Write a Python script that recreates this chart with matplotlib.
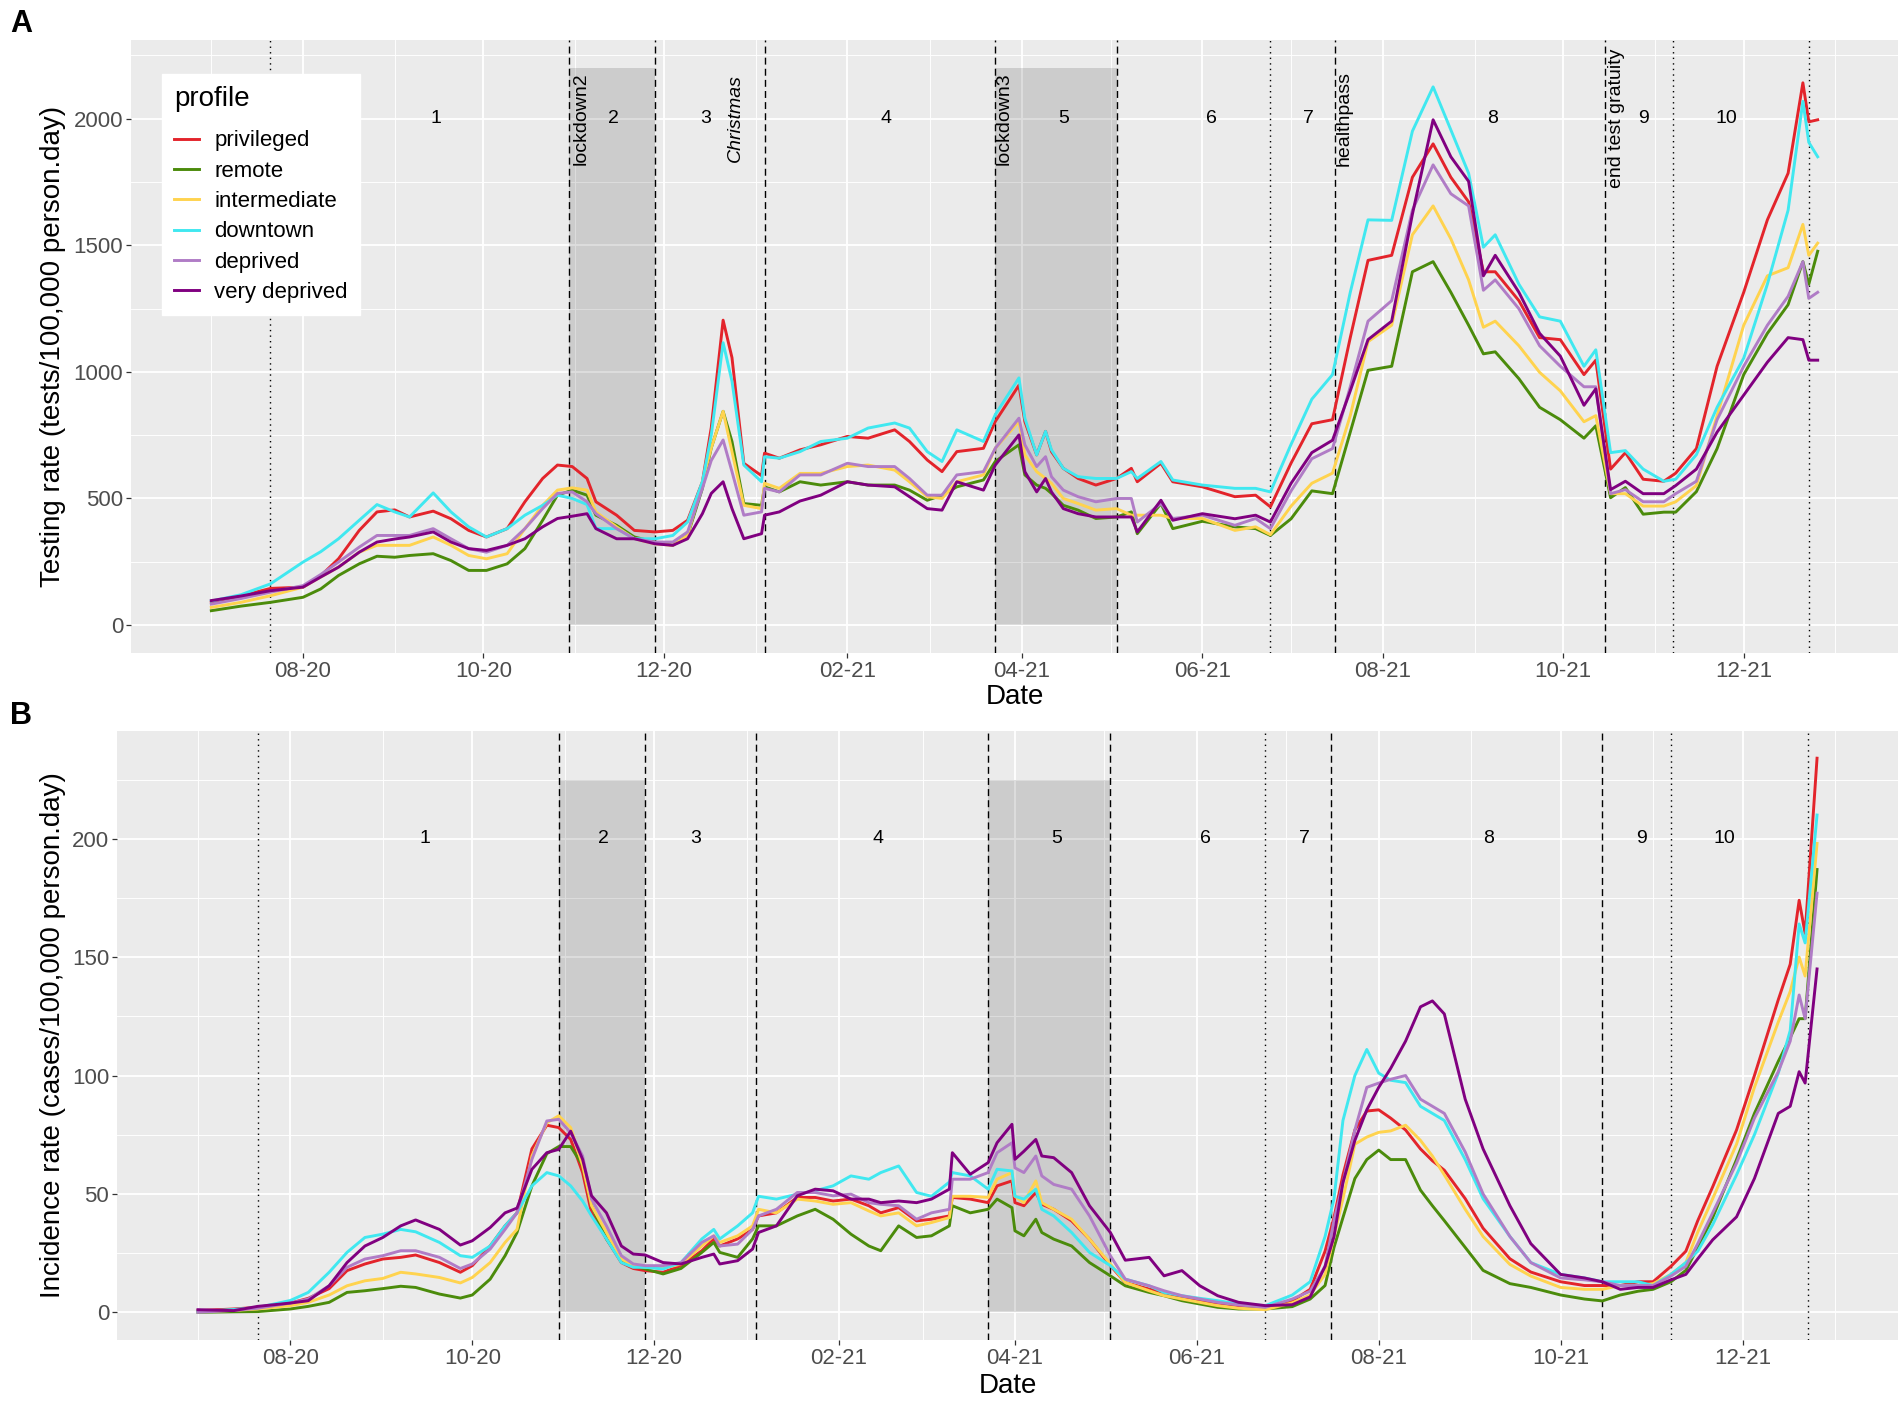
import matplotlib
matplotlib.use("Agg")
import matplotlib.pyplot as plt
import matplotlib.dates as mdates
from matplotlib.ticker import MultipleLocator, FixedLocator
import pandas as pd

plt.rcParams['font.family'] = ['Liberation Sans', 'DejaVu Sans']

# ---- data -----------------------------------------------------------------
profiles = ["privileged", "remote", "intermediate", "downtown", "deprived", "very deprived"]
colors = ["#E3242B", "#4B8B0B", "#FFD34E", "#40E8F0", "#B07CC6", "#800080"]

dates_a = [
    "2020-07-01", "2020-07-11", "2020-07-21", "2020-08-01", "2020-08-07", "2020-08-13", "2020-08-20", "2020-08-26", "2020-09-01", "2020-09-06",
    "2020-09-14", "2020-09-20", "2020-09-26", "2020-10-02", "2020-10-09", "2020-10-15", "2020-10-21", "2020-10-26", "2020-10-31", "2020-11-05",
    "2020-11-08", "2020-11-15", "2020-11-21", "2020-11-28", "2020-12-04", "2020-12-09", "2020-12-14", "2020-12-17", "2020-12-21", "2020-12-24",
    "2020-12-28", "2021-01-03", "2021-01-04", "2021-01-09", "2021-01-16", "2021-01-23", "2021-02-01", "2021-02-08", "2021-02-17", "2021-02-22",
    "2021-02-28", "2021-03-05", "2021-03-10", "2021-03-19", "2021-03-23", "2021-03-31", "2021-04-02", "2021-04-06", "2021-04-09", "2021-04-11",
    "2021-04-15", "2021-04-20", "2021-04-26", "2021-05-03", "2021-05-08", "2021-05-10", "2021-05-18", "2021-05-22", "2021-06-01", "2021-06-12",
    "2021-06-19", "2021-06-24", "2021-07-01", "2021-07-08", "2021-07-15", "2021-07-21", "2021-07-27", "2021-08-04", "2021-08-11", "2021-08-18",
    "2021-08-24", "2021-08-30", "2021-09-04", "2021-09-08", "2021-09-16", "2021-09-23", "2021-09-30", "2021-10-08", "2021-10-12", "2021-10-17",
    "2021-10-22", "2021-10-28", "2021-11-04", "2021-11-08", "2021-11-15", "2021-11-22", "2021-12-01", "2021-12-09", "2021-12-16", "2021-12-21",
    "2021-12-23", "2021-12-26"]

test_privileged = [90, 115, 145, 150, 195, 262, 374, 447, 455, 427,
                   450, 420, 374, 348, 381, 487, 579, 632, 626, 579,
                   487, 434, 374, 368, 374, 414, 566, 780, 1204, 1056,
                   639, 590, 679, 659, 692, 712, 745, 738, 771, 725,
                   652, 606, 685, 698, 804, 947, 804, 672, 765, 685,
                   619, 579, 553, 579, 619, 566, 639, 566, 546, 507,
                   513, 467, 640, 795, 811, 1135, 1440, 1460, 1768, 1900,
                   1768, 1671, 1395, 1395, 1281, 1135, 1127, 989, 1046, 616,
                   681, 576, 568, 600, 697, 1022, 1314, 1600, 1784, 2141,
                   1987, 1995]
test_remote = [57, 75, 90, 110, 143, 196, 242, 272, 268, 275,
               282, 255, 216, 216, 242, 302, 414, 513, 533, 513,
               434, 394, 348, 328, 315, 354, 540, 700, 844, 725,
               480, 473, 546, 526, 566, 553, 566, 553, 553, 533,
               493, 513, 546, 573, 646, 712, 593, 553, 540, 520,
               473, 454, 421, 427, 447, 361, 480, 381, 410, 388,
               381, 354, 420, 530, 519, 762, 1006, 1022, 1395, 1435,
               1314, 1184, 1071, 1079, 973, 860, 811, 738, 787, 503,
               543, 438, 446, 446, 527, 697, 989, 1152, 1265, 1435,
               1346, 1476]
test_intermediate = [70, 90, 116, 150, 190, 229, 288, 315, 315, 315,
                     348, 315, 275, 262, 282, 381, 473, 533, 542, 533,
                     447, 388, 341, 321, 315, 354, 566, 700, 844, 685,
                     473, 460, 560, 540, 599, 599, 626, 632, 612, 566,
                     507, 500, 566, 593, 698, 804, 672, 606, 579, 560,
                     500, 480, 454, 460, 434, 434, 434, 421, 421, 374,
                     388, 357, 470, 560, 600, 827, 1119, 1184, 1541, 1655,
                     1525, 1363, 1176, 1200, 1103, 998, 925, 803, 827, 519,
                     519, 470, 470, 487, 551, 827, 1184, 1379, 1411, 1582,
                     1460, 1508]
test_downtown = [95, 120, 163, 249, 290, 341, 414, 476, 447, 427,
                 522, 447, 388, 348, 381, 434, 473, 513, 500, 476,
                 381, 381, 341, 341, 354, 407, 566, 750, 1115, 963,
                 632, 566, 665, 659, 685, 725, 738, 778, 798, 778,
                 685, 646, 771, 725, 831, 976, 817, 672, 765, 692,
                 619, 586, 579, 579, 606, 579, 646, 573, 553, 540,
                 540, 526, 714, 892, 989, 1314, 1600, 1598, 1950, 2125,
                 1955, 1784, 1492, 1541, 1346, 1217, 1200, 1022, 1087, 681,
                 689, 616, 568, 576, 673, 860, 1054, 1346, 1638, 2068,
                 1906, 1849]
test_deprived = [83, 105, 130, 156, 200, 249, 308, 354, 354, 354,
                 381, 341, 302, 288, 315, 381, 460, 520, 526, 487,
                 440, 381, 341, 328, 328, 368, 540, 650, 731, 606,
                 434, 447, 540, 526, 593, 593, 639, 626, 626, 579,
                 513, 513, 593, 606, 698, 817, 712, 626, 665, 586,
                 533, 507, 487, 500, 500, 407, 480, 421, 434, 394,
                 421, 381, 530, 657, 697, 941, 1200, 1281, 1638, 1817,
                 1703, 1655, 1322, 1363, 1249, 1103, 1022, 941, 941, 519,
                 535, 487, 487, 519, 568, 811, 1022, 1184, 1298, 1435,
                 1290, 1314]
test_very_deprived = [97, 115, 136, 150, 190, 229, 288, 328, 340, 348,
                      368, 328, 302, 295, 315, 341, 388, 421, 430, 440,
                      381, 341, 341, 321, 315, 341, 440, 520, 566, 460,
                      341, 361, 434, 447, 490, 513, 566, 553, 546, 507,
                      460, 454, 566, 533, 632, 751, 606, 526, 579, 526,
                      460, 440, 427, 427, 427, 368, 493, 414, 440, 420,
                      434, 407, 560, 681, 730, 925, 1127, 1200, 1622, 1995,
                      1849, 1752, 1379, 1460, 1314, 1152, 1062, 868, 933, 535,
                      568, 519, 519, 551, 616, 762, 908, 1038, 1135, 1127,
                      1046, 1046]

dates_b = [
    "2020-07-01", "2020-07-13", "2020-07-21", "2020-08-01", "2020-08-07", "2020-08-14", "2020-08-20", "2020-08-26", "2020-09-01", "2020-09-07",
    "2020-09-12", "2020-09-20", "2020-09-27", "2020-10-01", "2020-10-07", "2020-10-12", "2020-10-16", "2020-10-21", "2020-10-26", "2020-10-30",
    "2020-11-03", "2020-11-07", "2020-11-10", "2020-11-15", "2020-11-20", "2020-11-24", "2020-11-28", "2020-12-04", "2020-12-10", "2020-12-17",
    "2020-12-21", "2020-12-23", "2020-12-29", "2021-01-03", "2021-01-05", "2021-01-11", "2021-01-18", "2021-01-24", "2021-01-30", "2021-02-05",
    "2021-02-11", "2021-02-15", "2021-02-21", "2021-02-27", "2021-03-04", "2021-03-10", "2021-03-11", "2021-03-17", "2021-03-23", "2021-03-26",
    "2021-03-31", "2021-04-01", "2021-04-04", "2021-04-08", "2021-04-10", "2021-04-14", "2021-04-20", "2021-04-26", "2021-05-03", "2021-05-08",
    "2021-05-16", "2021-05-21", "2021-05-27", "2021-06-02", "2021-06-08", "2021-06-15", "2021-06-24", "2021-07-03", "2021-07-09", "2021-07-14",
    "2021-07-17", "2021-07-20", "2021-07-24", "2021-07-28", "2021-08-01", "2021-08-05", "2021-08-10", "2021-08-15", "2021-08-19", "2021-08-23",
    "2021-08-30", "2021-09-05", "2021-09-14", "2021-09-21", "2021-10-01", "2021-10-09", "2021-10-15", "2021-10-21", "2021-10-27", "2021-11-01",
    "2021-11-07", "2021-11-12", "2021-11-16", "2021-11-21", "2021-11-29", "2021-12-05", "2021-12-13", "2021-12-17", "2021-12-20", "2021-12-22",
    "2021-12-26"]

inc_privileged = [0.7, 1.4, 2.1, 3.9, 5.9, 10, 17.6, 20.4, 22.5, 23.2,
                  24.2, 21, 16.9, 19.7, 28, 36.5, 42, 69, 79, 78,
                  73, 59, 42, 31, 21, 18.5, 17.6, 16.9, 19.7, 26,
                  31, 28, 31, 35, 40.7, 42, 48.5, 48.5, 47, 47.8,
                  45, 42, 44.2, 38.6, 39.3, 40.7, 48.5, 47.8, 46.3, 53.4,
                  55.5, 46.3, 45, 50.6, 45.6, 43.5, 38.6, 30.9, 19.7, 12.6,
                  9.8, 8.4, 6.3, 4.9, 3.9, 2.8, 2.1, 4.8, 9.7, 25.8,
                  40, 58, 77, 85, 85.5, 82, 77, 69, 64, 60,
                  48, 35.5, 22.6, 17, 12.9, 11.3, 11.3, 11.3, 12.9, 12.9,
                  19.4, 25.8, 38.7, 53, 77, 100, 132, 147, 174, 160,
                  234]
inc_remote = [0, 0.2, 0.3, 1.4, 2.5, 4.2, 8.4, 9.1, 10, 11,
              10.5, 7.7, 6, 7.3, 14, 23.9, 33.7, 53.4, 67, 70,
              70, 62, 45, 31, 21.8, 19.7, 18.3, 16.2, 18.5, 25.3,
              29.5, 25.3, 23.2, 31, 36.5, 36.5, 40.7, 43.5, 39.3, 33,
              28, 26, 36.5, 31.6, 32.3, 36.5, 45, 42, 43.5, 47.8,
              44.2, 34.4, 32.3, 39.3, 33.7, 30.9, 28, 21, 15.4, 11.2,
              8.4, 7, 4.9, 3.5, 2.1, 1.4, 1.4, 2.4, 5.6, 11.3,
              27.4, 40, 56.5, 64.5, 68.5, 64.5, 64.5, 51.6, 45, 38.7,
              27.4, 17.7, 12.1, 10.5, 7.3, 5.6, 4.8, 7.3, 8.9, 9.7,
              12.9, 17.7, 27.4, 40, 64.5, 84, 106, 116, 124, 124,
              187]
inc_intermediate = [0.3, 0.8, 1.4, 2.8, 4.2, 7.3, 11.2, 13.3, 14.3, 16.9,
                    16.2, 14.7, 12.4, 14.7, 21, 29.5, 35, 66, 80, 83,
                    78, 62, 45, 33.7, 22.5, 19.7, 19, 18.5, 20.4, 28,
                    32.3, 29.5, 32.3, 36.5, 43.5, 42, 47.8, 47, 45.6, 46.3,
                    42.8, 40.7, 42, 36.5, 37.9, 40, 49, 49, 48.5, 56.2,
                    59, 49, 46.3, 55.5, 46.3, 43.5, 39.3, 30.9, 20.4, 12.6,
                    9.1, 7, 5.6, 4.2, 2.8, 1.7, 1.1, 4, 7.3, 16,
                    32, 48, 71, 74, 76, 76.6, 79, 72.6, 66, 58,
                    43.5, 32, 20.2, 15.3, 10.5, 9.7, 9.7, 11.3, 11.3, 12.1,
                    16, 21, 33.9, 48, 71, 95, 122.6, 135.5, 150, 142,
                    198]
inc_downtown = [0.3, 1.2, 2, 5, 8.4, 16.9, 25.3, 31.6, 33, 35,
                34, 29.5, 23.9, 23.2, 28, 36.5, 42, 53.4, 59, 57.6,
                53.4, 47, 40.7, 31, 21, 19, 19, 18.3, 21, 31,
                35, 31, 36.5, 42, 49, 47.8, 49.9, 51.3, 53.4, 57.6,
                56.2, 59, 61.8, 50.6, 49, 55, 59, 57.6, 52, 60.4,
                59.7, 49, 47.8, 52, 43.5, 40.7, 33.7, 25.3, 19.7, 14,
                11.2, 8.4, 7, 5.9, 4.9, 3.5, 2.8, 7.3, 12.9, 32,
                48, 81, 100, 111, 101, 98, 97, 87, 84, 81,
                64.5, 48, 32, 21, 16, 14.5, 12.9, 12.9, 12.9, 11.3,
                16, 21, 25.8, 37, 58, 75, 101, 119, 164, 156,
                210]
inc_deprived = [0, 0.8, 1.7, 3.9, 5.6, 11.2, 19, 22.5, 23.9, 26,
                26, 23.2, 18.5, 20.4, 26.7, 35, 42, 64.6, 80.8, 81.5,
                75.8, 66, 47.8, 36.5, 23.9, 20.4, 19.7, 19.7, 21, 29.5,
                32.3, 28, 28.8, 35, 40.7, 43.5, 50.6, 50.6, 49.2, 49.9,
                46.3, 45.6, 45, 39.3, 42, 43.5, 56.2, 56.2, 59, 67.4,
                71.6, 61, 59, 66, 57.6, 54, 52, 40.7, 23.9, 14,
                11.2, 9.1, 7, 5.6, 4.2, 3.1, 2.1, 5.6, 8.9, 19.4,
                38.7, 54.8, 77, 95, 96.8, 98.4, 100, 90, 87, 84,
                67.7, 50, 32, 21, 14.5, 13.7, 12.9, 11.3, 11.3, 11.3,
                15.3, 19.4, 29, 42, 63, 82, 101.6, 114.5, 134, 124,
                177]
inc_very_deprived = [1.1, 0.7, 2.5, 3.9, 4.9, 11.2, 21, 28, 31.6, 36.5,
                     39, 35, 28.4, 30.2, 35.8, 42, 44, 60.4, 67.4, 68.8,
                     76.5, 64.6, 49.2, 42, 28, 24.6, 24.2, 21, 20.4, 23.2,
                     24.6, 20.4, 21.8, 26.7, 33.7, 36.5, 49.2, 52, 51.3, 47.8,
                     47.8, 46.3, 47, 46.3, 47.8, 52, 67.4, 58.3, 63.2, 71.6,
                     79.4, 64.6, 68, 73, 66, 65.3, 59, 45, 33.7, 22,
                     23.2, 15.4, 17.6, 11.2, 7, 4.2, 2.8, 3.2, 6.5, 19.4,
                     32, 54.8, 72.6, 85.5, 95, 103, 114.5, 129, 131.5, 126,
                     90, 69, 45, 29, 16, 14.5, 12.9, 9.7, 10.5, 10.5,
                     13.7, 16, 22.6, 30.6, 40.3, 56.5, 84, 87, 101.6, 96.8,
                     145]

# events / periods
dashed_dates = ["2020-10-30", "2020-11-28", "2021-01-04", "2021-03-23", "2021-05-03", "2021-07-16", "2021-10-15"]
dotted_dates = ["2020-07-21", "2021-06-24", "2021-11-07", "2021-12-23"]
lockdown_starts = ["2020-10-30", "2021-03-23"]
lockdown_ends = ["2020-11-28", "2021-05-03"]
period_labels = ["1", "2", "3", "4", "5", "6", "7", "8", "9", "10"]
period_dates = ["2020-09-15", "2020-11-14", "2020-12-15", "2021-02-14", "2021-04-15",
                "2021-06-04", "2021-07-07", "2021-09-07", "2021-10-28", "2021-11-25"]
event_labels = ["lockdown2", "Christmas", "lockdown3", "healthpass", "end test gratuity"]
event_label_dates = ["2020-11-03", "2020-12-25", "2021-03-26", "2021-07-19", "2021-10-19"]

testing_series = [test_privileged, test_remote, test_intermediate, test_downtown, test_deprived, test_very_deprived]
incidence_series = [inc_privileged, inc_remote, inc_intermediate, inc_downtown, inc_deprived, inc_very_deprived]


def draw_panel(ax, dates, series, shade_top, label_y, yticks, yminor, ylabel):
    dates = pd.to_datetime(dates)
    ax.set_facecolor("#EBEBEB")
    for s in ax.spines.values():
        s.set_visible(False)

    ax.xaxis.set_major_locator(mdates.MonthLocator(bymonth=[2, 4, 6, 8, 10, 12]))
    ax.xaxis.set_minor_locator(mdates.MonthLocator(bymonth=[1, 3, 5, 7, 9, 11]))
    ax.xaxis.set_major_formatter(mdates.DateFormatter("%m-%y"))
    ax.yaxis.set_major_locator(FixedLocator(yticks))
    ax.yaxis.set_minor_locator(MultipleLocator(yminor))
    ax.grid(which="major", color="white", linewidth=1.3)
    ax.grid(which="minor", color="white", linewidth=0.65)
    ax.set_axisbelow(True)
    ax.tick_params(which="major", length=3.6, width=0.9, color="#333333",
                   labelcolor="#4D4D4D", labelsize=16, pad=2)
    ax.tick_params(which="minor", length=0)

    for s, e in zip(lockdown_starts, lockdown_ends):
        ax.fill_between(pd.to_datetime([s, e]), 0, shade_top, color="black",
                        alpha=0.13, linewidth=0, zorder=1)

    handles = []
    for vals, col, name in zip(series, colors, profiles):
        h, = ax.plot(dates, vals, color=col, linewidth=2.1, label=name, zorder=3)
        handles.append(h)

    for d in dashed_dates:
        ax.axvline(pd.Timestamp(d), color="black", linewidth=1.0, linestyle=(0, (5, 3)), zorder=2.5)
    for d in dotted_dates:
        ax.axvline(pd.Timestamp(d), color="black", linewidth=1.0, linestyle=(0, (1, 3)), zorder=2.5)

    for lab, d in zip(period_labels, period_dates):
        ax.text(pd.Timestamp(d), label_y, lab, ha="center", va="center", fontsize=14, zorder=4)

    start, end = mdates.date2num(dates.min()), mdates.date2num(dates.max())
    span = end - start
    ax.set_xlim(start - 0.05 * span, end + 0.05 * span)
    hi = max(max(max(v) for v in series), shade_top)
    ax.set_ylim(-0.05 * hi, hi * 1.05)

    ax.set_xlabel("Date", fontsize=20)
    ax.set_ylabel(ylabel, fontsize=20)
    ax.xaxis.label.set_va("center")
    ax.yaxis.label.set_va("center")
    return handles


fig = plt.figure(figsize=(19.02, 14.03), dpi=100)
ax_a = fig.add_axes([131 / 1902, 1 - 653 / 1403, (1898 - 131) / 1902, (653 - 40) / 1403])
ax_b = fig.add_axes([117 / 1902, 1 - 1340 / 1403, (1898 - 117) / 1902, (1340 - 730.5) / 1403])

handles = draw_panel(ax_a, dates_a, testing_series, 2200, 2000, [0, 500, 1000, 1500, 2000], 250,
                     "Testing rate (tests/100,000 person.day)")
draw_panel(ax_b, dates_b, incidence_series, 225, 200, [0, 50, 100, 150, 200], 25,
           "Incidence rate (cases/100,000 person.day)")

for lab, d in zip(event_labels, event_label_dates):
    style = "italic" if lab == "Christmas" else "normal"
    ax_a.text(pd.Timestamp(d), 2000, lab, rotation=90, ha="center", va="center",
              fontsize=14, fontstyle=style, zorder=4)

ax_a.xaxis.set_label_coords(0.5, -0.0718)
ax_a.yaxis.set_label_coords(-0.0441, 0.5)
ax_b.xaxis.set_label_coords(0.5, -0.0755)
ax_b.yaxis.set_label_coords(-0.0359, 0.5)

leg = ax_a.legend(handles, profiles, title="profile", loc="upper left",
                  bbox_to_anchor=(0.0175, 0.9445), frameon=True, fancybox=False,
                  edgecolor="white", facecolor="white", framealpha=1,
                  fontsize=16, title_fontsize=20, handlelength=1.1,
                  handletextpad=0.7, labelspacing=0.42, borderpad=0.55,
                  borderaxespad=0, alignment="left")
leg._legend_box.sep = 13
leg.set_zorder(5)

fig.text(0.011, 0.983, "A", fontsize=22, fontweight="bold", ha="center", va="center")
fig.text(0.011, 0.4897, "B", fontsize=22, fontweight="bold", ha="center", va="center")

fig.savefig("out.png", dpi=100)
